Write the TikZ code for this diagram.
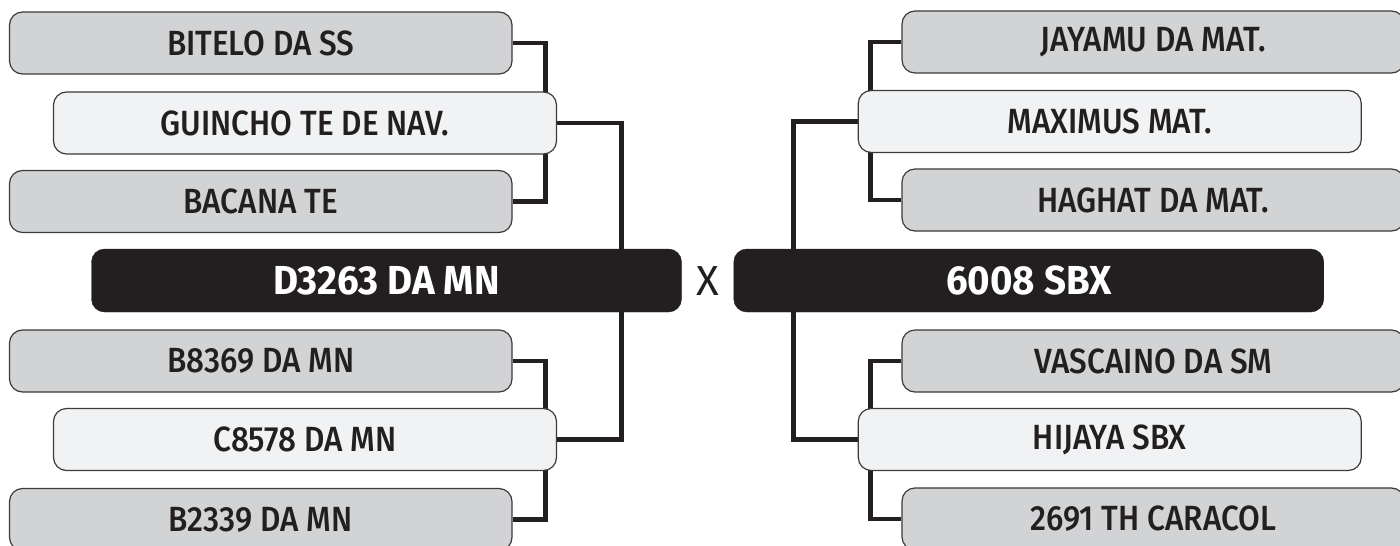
\documentclass[tikz,border=0pt]{standalone}
\usepackage{fontspec}
\setmainfont{Fira Sans}
\newfontfamily\boxfont[FakeStretch=0.9]{Fira Sans Medium}
\newfontfamily\headfont[FakeStretch=0.95]{Fira Sans}
\usetikzlibrary{backgrounds,calc}
\definecolor{ink}{HTML}{231F20}
\definecolor{boxgray}{HTML}{D1D3D4}
\definecolor{boxlight}{HTML}{F1F2F3}
\definecolor{edge}{HTML}{3C3A3B}
\tikzset{
  teambox/.style={draw=edge, line width=1.2pt, rounded corners=13pt, minimum height=62pt,
    inner sep=0pt, text=ink, font=\boxfont\fontsize{35}{35}\selectfont},
  graybox/.style={teambox, fill=boxgray, minimum width=502.5pt},
  lightbox/.style={teambox, fill=boxlight, minimum width=503pt},
  finalbox/.style={fill=ink, draw=ink, rounded corners=13pt, minimum height=63pt, minimum width=590pt,
    inner sep=0pt, text=white, font=\headfont\bfseries\fontsize{40.5}{40.5}\selectfont},
  link/.style={draw=ink, line width=4.8pt}
}
\begin{document}
\begin{tikzpicture}[x=1pt,y=-1pt]
\useasboundingbox (0,0) rectangle (1400,546);
% left side
\node[graybox]  (bitelo)  at (260.75,43)  {BITELO DA SS};
\node[lightbox] (guincho) at (305,123)    {GUINCHO TE DE NAV.};
\node[graybox]  (bacana)  at (260.75,201.5) {BACANA TE};
\node[finalbox] (lfinal)  at (386.5,280.5) {D3263 DA MN};
\node[graybox]  (b8369)   at (260.75,361) {B8369 DA MN};
\node[lightbox] (c8578)   at (305,439.5)  {C8578 DA MN};
\node[graybox]  (b2339)   at (260.75,519.5) {B2339 DA MN};
% right side
\node[graybox]  (jayamu)  at (1153.25,42) {JAYAMU DA MAT.};
\node[lightbox] (maximus) at (1109.75,121.5) {MAXIMUS MAT.};
\node[graybox]  (haghat)  at (1153.25,200) {HAGHAT DA MAT.};
\node[finalbox] (rfinal)  at (1028.75,280.5) {6008 SBX};
\node[graybox]  (vascaino) at (1153.25,361) {VASCAINO DA SM};
\node[lightbox] (hijaya)  at (1109.75,439.5) {HIJAYA SBX};
\node[graybox]  (caracol) at (1153.25,519) {2691 TH CARACOL};
% versus mark
\node[text=ink, font=\fontsize{42}{42}\selectfont, inner sep=0pt] (vs) at (707.5,281.5) {X};
% connectors
\coordinate (jl) at ($(guincho.east)+(64,0)$);
\coordinate (jlb) at ($(c8578.east)+(64,0)$);
\coordinate (jr) at ($(maximus.west)+(-64.5,0)$);
\coordinate (jrb) at ($(hijaya.west)+(-64.5,0)$);
\begin{scope}[on background layer]
\draw[link] (bitelo.east) -- ++(33,0) |- (bacana.east);
\draw[link] (b8369.east) -- ++(33,0) |- (b2339.east);
\draw[link] (guincho.east) -- (jl) -- (jl |- lfinal.north);
\draw[link] (c8578.east) -- (jlb) -- (jlb |- lfinal.south);
\draw[link] (jayamu.west) -- ++(-31,0) |- (haghat.west);
\draw[link] (vascaino.west) -- ++(-31,0) |- (caracol.west);
\draw[link] (maximus.west) -- (jr) -- (jr |- rfinal.north);
\draw[link] (hijaya.west) -- (jrb) -- (jrb |- rfinal.south);
\end{scope}
\end{tikzpicture}
\end{document}
